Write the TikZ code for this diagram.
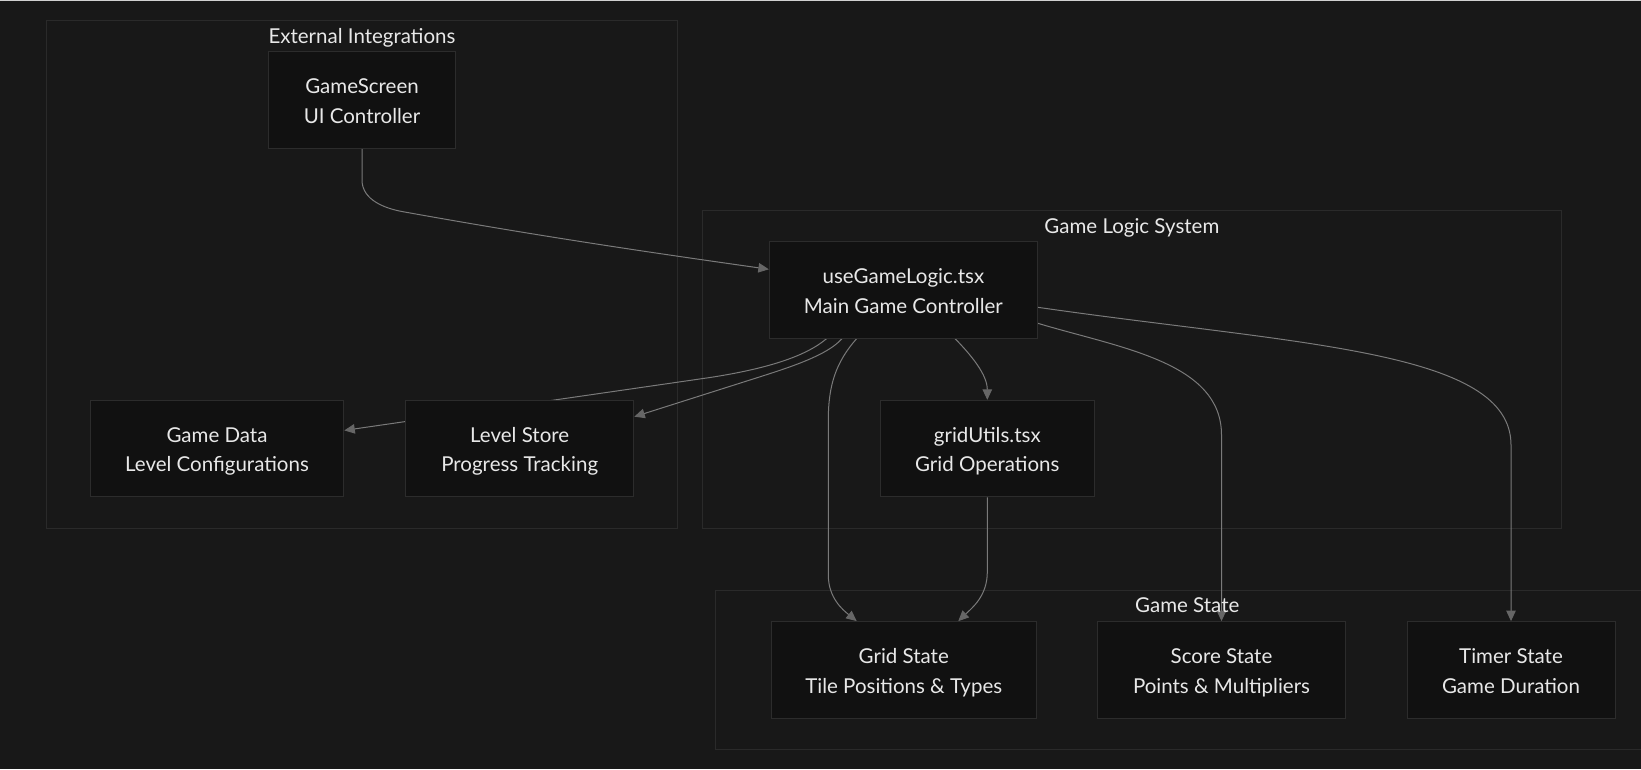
\documentclass[tikz,border=0pt]{standalone}
\usepackage{fontspec}
\setmainfont{Lato}
\usetikzlibrary{arrows.meta}
\definecolor{bgc}{HTML}{181818}
\definecolor{clfill}{HTML}{181818}
\definecolor{clline}{HTML}{2A2A2A}
\definecolor{ndfill}{HTML}{111111}
\definecolor{ndline}{HTML}{2C2C2C}
\definecolor{edgec}{HTML}{7A7A7A}
\definecolor{arrc}{HTML}{666666}
\definecolor{txtc}{HTML}{E8E8E8}
\definecolor{topc}{HTML}{D0D0D0}
\pgfdeclarelayer{back}
\pgfdeclarelayer{edgelayer}
\pgfsetlayers{back,edgelayer,main}
\newcommand\twolines[3]{%
  \node[txt] (#1-l1) at ([yshift=6.3pt]#1.center) {#2};
  \node[txt] (#1-l2) at ([yshift=-23.3pt]#1.center) {#3};}
\begin{document}
\begin{tikzpicture}[x=1pt,y=-1pt,
  cluster/.style={draw=clline, fill=clfill, line width=1pt, inner sep=0pt},
  nodebox/.style={draw=ndline, fill=ndfill, line width=1pt, minimum height=96.5pt, inner sep=0pt},
  txt/.style={text=txtc, font=\fontsize{20.5}{24}\selectfont, inner sep=0pt, anchor=base},
  edge/.style={draw=edgec, line width=1pt, -{Triangle[length=10.5pt,width=9.5pt,color=arrc]}}
  ]
\useasboundingbox (0,0) rectangle (1641,769);
\begin{pgfonlayer}{back}
  \fill[bgc] (0,0) rectangle (1641,769);
  \draw[topc, line width=1pt] (0,0.5) -- (1641,0.5);
  \node[cluster, minimum width=631pt, minimum height=508pt] (ext) at (362,274) {};
  \node[cluster, minimum width=858.3pt, minimum height=317.6pt] (gls) at (1131.85,369.5) {};
  \node[cluster, minimum width=943.5pt, minimum height=158.5pt] (gst) at (1187.25,669.75) {};
\end{pgfonlayer}

\node[txt] (ext-title) at (362,43.3) {External Integrations};
\node[txt] (gls-title) at (1131.85,233.3) {Game Logic System};
\node[txt] (gst-title) at (1187.25,612.7) {Game State};

\node[nodebox, minimum width=187pt] (gs) at (362,100) {};
\node[nodebox, minimum width=268pt] (ugl) at (903.35,289.8) {};
\node[nodebox, minimum width=253.6pt] (gd) at (217,448.6) {};
\node[nodebox, minimum width=228.2pt] (ls) at (519.7,448.6) {};
\node[nodebox, minimum width=214pt] (gu) at (987.3,448.6) {};
\node[nodebox, minimum width=264.5pt] (grs) at (903.75,669.85) {};
\node[nodebox, minimum width=247.2pt] (ss) at (1221.5,669.85) {};
\node[nodebox, minimum width=208pt] (ts) at (1511,669.85) {};

\twolines{gs}{GameScreen}{UI Controller}
\twolines{ugl}{useGameLogic.tsx}{Main Game Controller}
\twolines{gd}{Game Data}{Level Configurations}
\twolines{ls}{Level Store}{Progress Tracking}
\twolines{gu}{gridUtils.tsx}{Grid Operations}
\twolines{grs}{Grid State}{Tile Positions \& Types}
\twolines{ss}{Score State}{Points \& Multipliers}
\twolines{ts}{Timer State}{Game Duration}

\begin{pgfonlayer}{edgelayer}
  \draw[edge] (gs.south) -- (362,180) .. controls (362,200) and (385,208.5) .. (403,211.7)
     .. controls (560,240) and (690,258) .. ([yshift=20.5pt]ugl.west);
  \draw[edge] ([xshift=-76.65pt]ugl.south) .. controls (805,357) and (765,369) .. (710,377.5)
     -- ([yshift=18.2pt]gd.east);
  \draw[edge] ([xshift=-61.35pt]ugl.south) .. controls (828,355) and (790,367.2) .. (760,376.8)
     -- ([yshift=31.9pt]ls.east);
  \draw[edge] ([xshift=51.65pt]ugl.south) .. controls (972,356) and (987.3,375) .. (gu.north);
  \draw[edge] ([xshift=-46.65pt]ugl.south) .. controls (836,362) and (828.3,385) .. (828.3,420)
     -- (828.3,575) .. controls (828.3,598) and (843,610) .. ([xshift=-47pt]grs.north);
  \draw[edge] (gu.south) -- (987.3,572) .. controls (987.3,596) and (972,608) .. ([xshift=54.5pt]grs.north);
  \draw[edge] ([yshift=-33.5pt]ugl.east) .. controls (1120,348) and (1221.5,362) .. (1221.5,435)
     -- (ss.north);
  \draw[edge] ([yshift=-17.5pt]ugl.east) .. controls (1300,345) and (1511,350) .. (1511,445)
     -- (ts.north);
\end{pgfonlayer}
\end{tikzpicture}
\end{document}
